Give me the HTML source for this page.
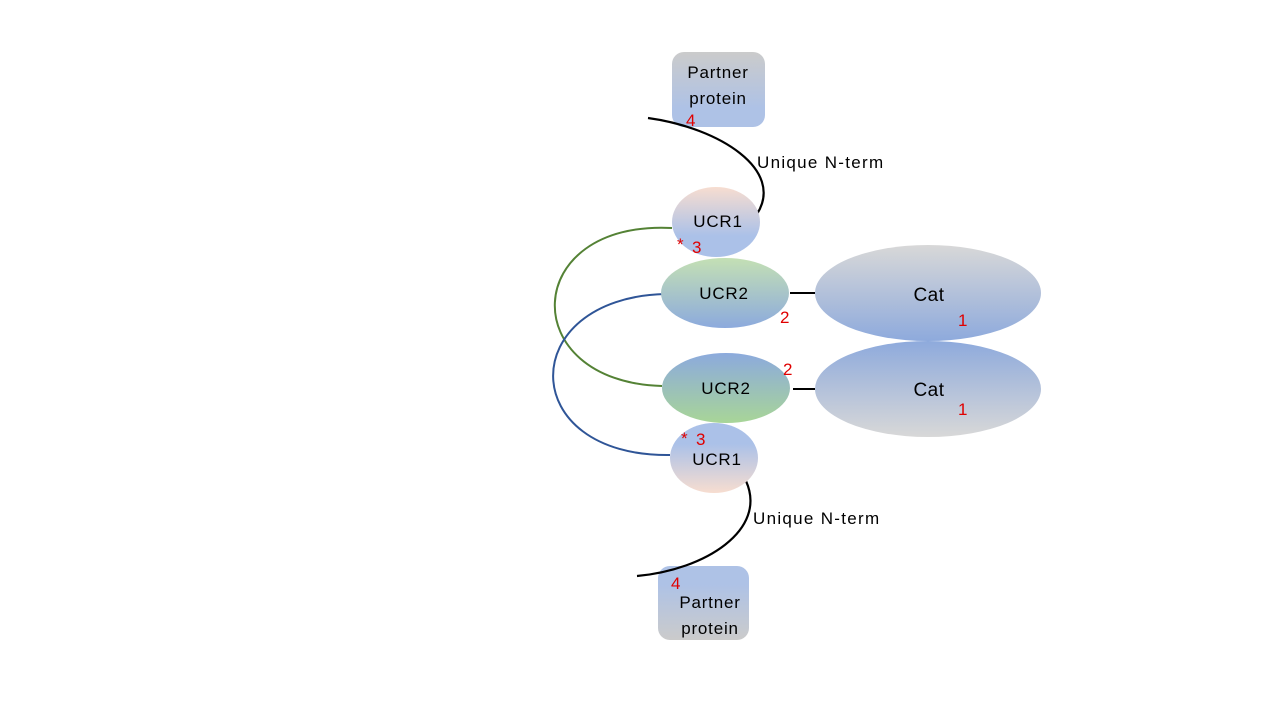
<!DOCTYPE html>
<html><head><meta charset="utf-8"><style>html,body{margin:0;padding:0;background:#fff}svg{display:block}</style></head><body>
<svg width="1280" height="720" viewBox="0 0 1280 720" xmlns="http://www.w3.org/2000/svg" font-family="Liberation Sans, sans-serif">
<defs>
<linearGradient id="gb" x1="0" y1="0" x2="0" y2="1"><stop offset="0" stop-color="#cbcbcb"/><stop offset="0.75" stop-color="#aec2e6"/></linearGradient>
<linearGradient id="bg" x1="0" y1="0" x2="0" y2="1"><stop offset="0.25" stop-color="#aec2e6"/><stop offset="1" stop-color="#cbcbcb"/></linearGradient>
<linearGradient id="pb" x1="0" y1="0" x2="0" y2="1"><stop offset="0" stop-color="#f7ddd0"/><stop offset="0.7" stop-color="#abc1e8"/></linearGradient>
<linearGradient id="bp" x1="0" y1="0" x2="0" y2="1"><stop offset="0.3" stop-color="#abc1e8"/><stop offset="1" stop-color="#f7ddd0"/></linearGradient>
<linearGradient id="gnb" x1="0" y1="0" x2="0" y2="1"><stop offset="0" stop-color="#c4e0b4"/><stop offset="1" stop-color="#8caadd"/></linearGradient>
<linearGradient id="bgn" x1="0" y1="0" x2="0" y2="1"><stop offset="0" stop-color="#8caadd"/><stop offset="1" stop-color="#a8d598"/></linearGradient>
<linearGradient id="cgb" x1="0" y1="0" x2="0" y2="1"><stop offset="0" stop-color="#d8d8d8"/><stop offset="1" stop-color="#8eaadc"/></linearGradient>
<linearGradient id="cbg" x1="0" y1="0" x2="0" y2="1"><stop offset="0" stop-color="#8eaadc"/><stop offset="1" stop-color="#d8d8d8"/></linearGradient>
</defs>
<rect x="672" y="52" width="93" height="75" rx="12" fill="url(#gb)"/>
<rect x="658" y="566" width="91" height="74" rx="12" fill="url(#bg)"/>
<path d="M648,118 C720,128 785,170 757,214" fill="none" stroke="#000" stroke-width="2.2"/>
<path d="M746,481 C768,530 705,570 637,576" fill="none" stroke="#000" stroke-width="2.2"/>
<path d="M672,228 C520,220 515,382 662,386" fill="none" stroke="#548235" stroke-width="2"/>
<path d="M665,294 C515,298 515,457 670,455" fill="none" stroke="#2f5597" stroke-width="2"/>
<line x1="790" y1="293" x2="815" y2="293" stroke="#000" stroke-width="2"/>
<line x1="793" y1="389" x2="815" y2="389" stroke="#000" stroke-width="2"/>
<ellipse cx="716" cy="222" rx="44" ry="35" fill="url(#pb)"/>
<ellipse cx="725" cy="293" rx="64" ry="35" fill="url(#gnb)"/>
<ellipse cx="726" cy="388" rx="64" ry="35" fill="url(#bgn)"/>
<ellipse cx="714" cy="458" rx="44" ry="35" fill="url(#bp)"/>
<ellipse cx="928" cy="293" rx="113" ry="48" fill="url(#cgb)"/>
<ellipse cx="928" cy="389" rx="113" ry="48" fill="url(#cbg)"/>
<g font-size="17" fill="#000" letter-spacing="0.8">
<text x="718" y="78" text-anchor="middle">Partner</text>
<text x="718" y="104" text-anchor="middle">protein</text>
<text x="710" y="608" text-anchor="middle">Partner</text>
<text x="710" y="634" text-anchor="middle">protein</text>
<text x="757" y="168" letter-spacing="1.3">Unique N-term</text>
<text x="753" y="524" letter-spacing="1.3">Unique N-term</text>
<text x="718" y="227" text-anchor="middle">UCR1</text>
<text x="724" y="299" text-anchor="middle">UCR2</text>
<text x="726" y="394" text-anchor="middle">UCR2</text>
<text x="717" y="465" text-anchor="middle">UCR1</text>
<text x="929" y="301" text-anchor="middle" font-size="19" letter-spacing="0.5">Cat</text>
<text x="929" y="396" text-anchor="middle" font-size="19" letter-spacing="0.5">Cat</text>
</g>
<g font-size="17" fill="#e00000">
<text x="686" y="126">4</text>
<text x="671" y="589">4</text>
<text x="677" y="250">*</text>
<text x="692" y="253">3</text>
<text x="681" y="444">*</text>
<text x="696" y="445">3</text>
<text x="780" y="323">2</text>
<text x="783" y="375">2</text>
<text x="958" y="326">1</text>
<text x="958" y="415">1</text>
</g>
</svg>
</body></html>
